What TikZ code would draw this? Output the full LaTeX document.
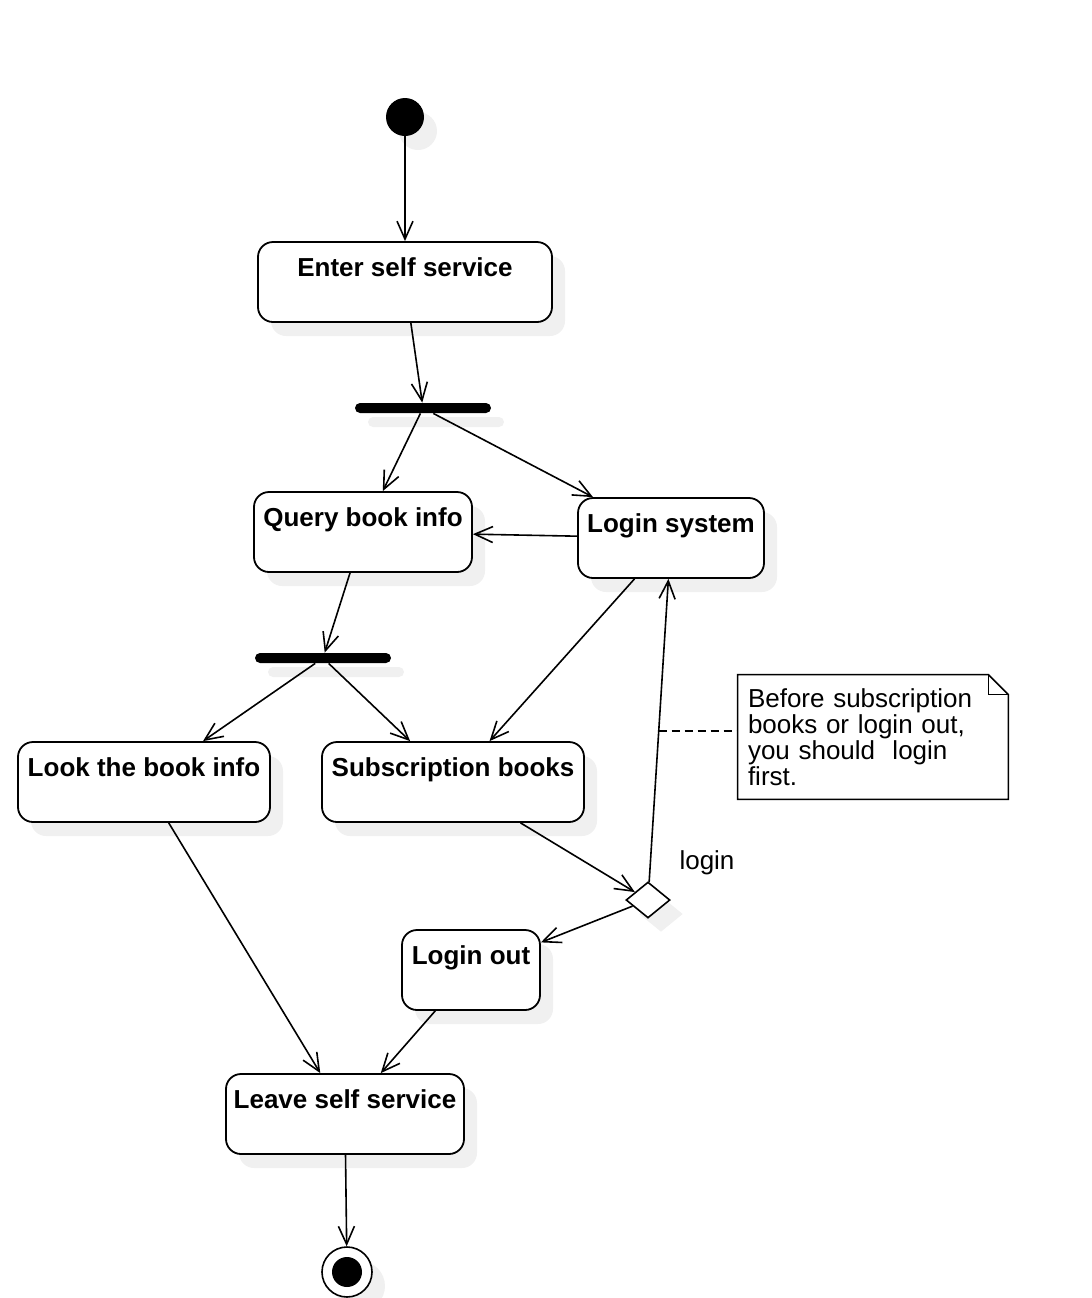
\documentclass[tikz,border=0pt]{standalone}
\usepackage{fontspec}
\setmainfont{Liberation Sans}
\usetikzlibrary{arrows.meta,shapes.geometric,shadows,calc}
\definecolor{shadowgray}{HTML}{F0F0F0}
\newcommand{\diagfont}{\fontsize{13}{13}\selectfont}
\tikzset{
  shade box/.style={drop shadow={shadow xshift=6.5pt, shadow yshift=-7pt, fill=shadowgray, opacity=1}},
  activity/.style={draw, line width=0.9pt, rounded corners=7.5pt, fill=white, minimum height=40pt,
    inner sep=0pt, font=\diagfont\bfseries, text height=9.5pt, text depth=15.5pt, shade box},
  forkbar/.style={fill=black, rounded corners=2.5pt, minimum width=68pt, minimum height=5pt, inner sep=0pt, shade box},
  decision/.style={diamond, draw, line width=0.8pt, fill=white, aspect=1.2, minimum width=22pt,
    minimum height=18pt, inner sep=0pt, shade box},
  startdot/.style={circle, fill=black, minimum size=19pt, inner sep=0pt, shade box},
  enddot/.style={circle, draw, line width=0.8pt, fill=white, minimum size=25pt, inner sep=0pt, shade box},
  enddotcore/.style={circle, fill=black, minimum size=15pt, inner sep=0pt},
  notebox/.style={font=\diagfont, text width=125pt, align=left, inner sep=5pt, minimum height=62pt},
  flow/.style={-{Straight Barb[length=9pt,width=8pt]}, line width=0.8pt},
}
\begin{document}
\begin{tikzpicture}[x=0.5pt, y=-0.5pt, font=\diagfont]
\useasboundingbox (0,0) rectangle (1092,1298);

% Activities
\node[startdot] (init) at (405,117) {};
\node[activity, minimum width=147pt] (enter) at (405,282) {Enter self service};
\node[forkbar] (fork1) at (423,408) {};
\node[activity, minimum width=109pt] (query) at (363,532) {Query book info};
\node[activity, minimum width=93pt] (login) at (671,538) {Login system};
\node[forkbar] (fork2) at (323,658) {};
\node[activity, minimum width=126pt] (look) at (144,782) {Look the book info};
\node[activity, minimum width=131pt] (subscr) at (453,782) {Subscription books};
\node[decision] (choice) at (648,900) {};
\node (loginlbl) at (707,863) {login};
\node[activity, minimum width=69pt] (logout) at (471,970) {Login out};
\node[activity, minimum width=119pt] (leave) at (345,1114) {Leave self service};
\node[enddot] (final) at (347,1272) {};
\node[enddotcore] (finalcore) at (final.center) {};

% Transitions
\foreach \a/\b in {init/enter, enter/fork1, fork1/query, fork1/login, login/query,
    query/fork2, fork2/look, fork2/subscr, login/subscr, subscr/choice, choice/login,
    choice/logout, look/leave, logout/leave, leave/final} {
  \draw[flow] (\a) -- (\b);
}

% Note
\node[notebox] (note) at (873,737) {Before subscription\\books or login out,\\you should~ login\\first.};
\draw[line width=0.8pt] (note.north west) -- ([xshift=-10pt]note.north east)
  -- ([yshift=-10pt]note.north east) -- (note.south east) -- (note.south west) -- cycle;
\draw[line width=0.6pt] ([xshift=-10pt]note.north east) |- ([yshift=-10pt]note.north east);
\coordinate (notept) at ($(choice)!0.467!(login)$);
\draw[line width=0.6pt, dash pattern=on 4pt off 2.5pt] (notept) -- (note.west |- notept);
\end{tikzpicture}
\end{document}
